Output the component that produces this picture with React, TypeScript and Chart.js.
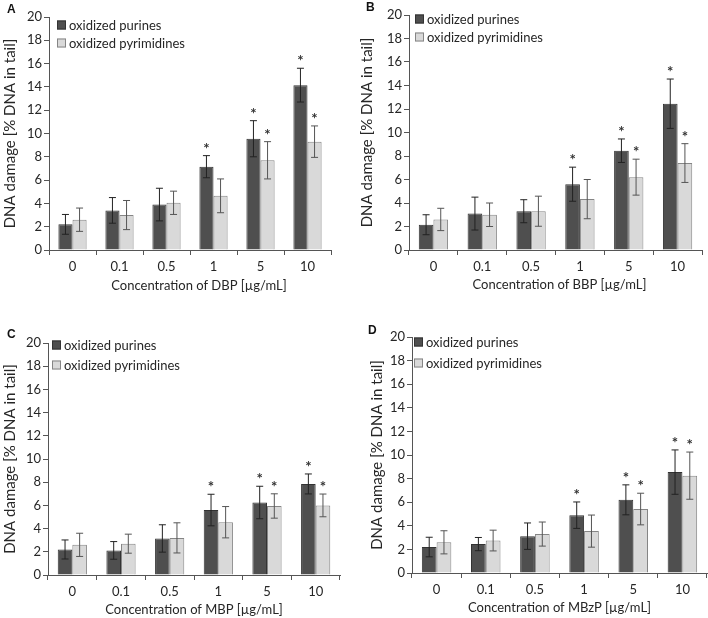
import React, { useEffect, useRef } from "react";
import { Chart, registerables } from "chart.js";

Chart.register(...registerables);

const categories = ["0", "0.1", "0.5", "1", "5", "10"];
const seriesNames = ["oxidized purines", "oxidized pyrimidines"];
const yTicks = [0, 2, 4, 6, 8, 10, 12, 14, 16, 18, 20];

// Panel A (DBP)
const dbpPurines = [2.2, 3.4, 3.9, 7.15, 9.55, 14.15];
const dbpPurinesErr = [0.85, 1.1, 1.4, 0.95, 1.55, 1.45];
const dbpPyrimidines = [2.6, 3.0, 4.05, 4.65, 7.7, 9.3];
const dbpPyrimidinesErr = [1.0, 1.25, 1.0, 1.45, 1.6, 1.35];
const dbpStars = [[false, false, false, true, true, true], [false, false, false, false, true, true]];

// Panel B (BBP)
const bbpPurines = [2.15, 3.1, 3.3, 5.6, 8.45, 12.45];
const bbpPurinesErr = [0.85, 1.4, 0.98, 1.45, 1.0, 2.1];
const bbpPyrimidines = [2.6, 3.0, 3.3, 4.33, 6.2, 7.4];
const bbpPyrimidinesErr = [0.95, 1.0, 1.28, 1.67, 1.53, 1.65];
const bbpStars = [[false, false, false, true, true, true], [false, false, false, false, true, true]];

// Panel C (MBP)
const mbpPurines = [2.2, 2.12, 3.15, 5.6, 6.25, 7.85];
const mbpPurinesErr = [0.82, 0.76, 1.18, 1.36, 1.4, 0.86];
const mbpPyrimidines = [2.6, 2.7, 3.2, 4.55, 5.95, 6.0];
const mbpPyrimidinesErr = [1.0, 0.82, 1.3, 1.35, 1.05, 0.98];
const mbpStars = [[false, false, false, true, true, true], [false, false, false, false, true, true]];

// Panel D (MBzP)
const mbzpPurines = [2.2, 2.45, 3.12, 4.9, 6.2, 8.55];
const mbzpPurinesErr = [0.83, 0.56, 1.12, 1.12, 1.27, 1.88];
const mbzpPyrimidines = [2.6, 2.75, 3.3, 3.55, 5.42, 8.25];
const mbzpPyrimidinesErr = [0.98, 0.88, 1.02, 1.36, 1.34, 2.0];
const mbzpStars = [[false, false, false, true, true, true], [false, false, false, false, true, true]];

const FONT = "Lato, 'Open Sans', sans-serif";
const DARK = "#4f4f4f";
const DARK_BORDER = "#333333";
const LIGHT = "#d9d9d9";
const LIGHT_BORDER = "#858585";
const AXIS = "#555555";
const TEXT = "#262626";

type Panel = {
  letter: string;
  xTitle: string;
  left: number;
  top: number;
  width: number;
  height: number;
  yAxisWidth: number;
  xAxisHeight: number;
  padTop: number;
  padRight: number;
  yTitlePad: number;
  xTitleDx: number;
  xTitleDy: number;
  legendDx: number;
  legendDy: number;
  legendGap: number;
  letterX: number;
  letterY: number;
  values: number[][];
  errs: number[][];
  stars: boolean[][];
};

const panels: Panel[] = [
  {
    letter: "A", xTitle: "Concentration of DBP [µg/mL]",
    left: 0, top: 0, width: 354, height: 300,
    yAxisWidth: 49, xAxisHeight: 50, padTop: 17, padRight: 23,
    yTitlePad: 2.5, xTitleDx: 9, xTitleDy: 36, legendDx: 8, legendDy: 8, legendGap: 18,
    letterX: 7, letterY: 2,
    values: [dbpPurines, dbpPyrimidines], errs: [dbpPurinesErr, dbpPyrimidinesErr], stars: dbpStars,
  },
  {
    letter: "B", xTitle: "Concentration of BBP [µg/mL]",
    left: 354, top: 0, width: 354, height: 300,
    yAxisWidth: 55, xAxisHeight: 50, padTop: 15, padRight: 6,
    yTitlePad: 5.5, xTitleDx: 4, xTitleDy: 35, legendDx: 6, legendDy: 4, legendGap: 18,
    letterX: 366, letterY: 0,
    values: [bbpPurines, bbpPyrimidines], errs: [bbpPurinesErr, bbpPyrimidinesErr], stars: bbpStars,
  },
  {
    letter: "C", xTitle: "Concentration of MBP [µg/mL]",
    left: 0, top: 300, width: 354, height: 318,
    yAxisWidth: 48, xAxisHeight: 43, padTop: 43, padRight: 14,
    yTitlePad: 2.5, xTitleDx: 0, xTitleDy: 35, legendDx: 4, legendDy: 2, legendGap: 20,
    letterX: 7, letterY: 327,
    values: [mbpPurines, mbpPyrimidines], errs: [mbpPurinesErr, mbpPyrimidinesErr], stars: mbpStars,
  },
  {
    letter: "D", xTitle: "Concentration of MBzP [µg/mL]",
    left: 354, top: 300, width: 354, height: 318,
    yAxisWidth: 58, xAxisHeight: 45, padTop: 37, padRight: 1,
    yTitlePad: 15.5, xTitleDx: 0, xTitleDy: 35, legendDx: 2, legendDy: 5, legendGap: 21,
    letterX: 368, letterY: 323,
    values: [mbzpPurines, mbzpPyrimidines], errs: [mbzpPurinesErr, mbzpPyrimidinesErr], stars: mbzpStars,
  },
];

function makeOverlay(p: Panel) {
  return {
    id: "overlay" + p.letter,
    afterDatasetsDraw(chart: any) {
      const ctx = chart.ctx;
      const yScale = chart.scales.y;
      ctx.save();
      for (let d = 0; d < 2; d++) {
        const meta = chart.getDatasetMeta(d);
        meta.data.forEach((bar: any, i: number) => {
          const v = p.values[d][i];
          const e = p.errs[d][i];
          const x = bar.x;
          const yt = yScale.getPixelForValue(v + e);
          const yb = yScale.getPixelForValue(v - e);
          ctx.strokeStyle = d === 0 ? "#222222" : "#555555";
          ctx.lineWidth = 1;
          ctx.beginPath();
          ctx.moveTo(x, yt);
          ctx.lineTo(x, yb);
          ctx.moveTo(x - 3.5, yt);
          ctx.lineTo(x + 3.5, yt);
          ctx.moveTo(x - 3.5, yb);
          ctx.lineTo(x + 3.5, yb);
          ctx.stroke();
          if (p.stars[d][i]) {
            ctx.fillStyle = "#333333";
            ctx.font = `bold 15px ${FONT}`;
            ctx.textAlign = "center";
            ctx.textBaseline = "alphabetic";
            ctx.fillText("*", x, yt - 2);
          }
        });
      }
      const area = chart.chartArea;
      // legend inside plot area
      const lx = area.left + p.legendDx;
      const fills = [DARK, LIGHT];
      const borders = [DARK_BORDER, LIGHT_BORDER];
      for (let k = 0; k < 2; k++) {
        const cy = area.top + p.legendDy + k * p.legendGap;
        ctx.fillStyle = fills[k];
        ctx.fillRect(lx, cy - 4.5, 9, 9);
        ctx.strokeStyle = borders[k];
        ctx.lineWidth = 1;
        ctx.strokeRect(lx + 0.5, cy - 4.5 + 0.5, 8, 8);
        ctx.fillStyle = TEXT;
        ctx.font = `13px ${FONT}`;
        ctx.textAlign = "left";
        ctx.textBaseline = "middle";
        ctx.fillText(seriesNames[k], lx + 12, cy + 0.5);
      }
      // x-axis title
      ctx.fillStyle = TEXT;
      ctx.font = `13px ${FONT}`;
      ctx.textAlign = "center";
      ctx.textBaseline = "middle";
      ctx.fillText(p.xTitle, (area.left + area.right) / 2 + p.xTitleDx, area.bottom + p.xTitleDy);
      ctx.restore();
    },
  };
}

function PanelChart({ p }: { p: Panel }) {
  const ref = useRef<HTMLCanvasElement>(null);
  useEffect(() => {
    if (!ref.current) return;
    const chart = new Chart(ref.current, {
      type: "bar",
      data: {
        labels: categories,
        datasets: [
          {
            label: seriesNames[0],
            data: p.values[0],
            backgroundColor: DARK,
            borderColor: DARK_BORDER,
            borderWidth: 1,
            categoryPercentage: 0.6,
            barPercentage: 1.0,
          },
          {
            label: seriesNames[1],
            data: p.values[1],
            backgroundColor: LIGHT,
            borderColor: LIGHT_BORDER,
            borderWidth: 1,
            categoryPercentage: 0.6,
            barPercentage: 1.0,
          },
        ],
      },
      options: {
        animation: false,
        responsive: false,
        devicePixelRatio: 1,
        layout: { padding: { top: p.padTop, right: p.padRight, left: 0, bottom: 0 } },
        plugins: {
          legend: { display: false },
          tooltip: { enabled: false },
        },
        scales: {
          x: {
            grid: {
              display: true,
              drawOnChartArea: false,
              drawTicks: true,
              tickLength: 5,
              color: AXIS,
              offset: true,
            },
            border: { display: true, color: AXIS, width: 1 },
            ticks: {
              color: TEXT,
              font: { family: FONT, size: 13 },
              padding: 4,
              maxRotation: 0,
            },
            afterFit: (s: any) => {
              s.height = p.xAxisHeight;
            },
          },
          y: {
            min: 0,
            max: 20,
            afterBuildTicks: (s: any) => {
              s.ticks = yTicks.map((v) => ({ value: v }));
            },
            grid: {
              display: true,
              drawOnChartArea: false,
              drawTicks: true,
              tickLength: 5,
              color: AXIS,
            },
            border: { display: true, color: AXIS, width: 1 },
            ticks: {
              color: TEXT,
              font: { family: FONT, size: 13 },
              padding: 2,
            },
            title: {
              display: true,
              text: "DNA damage [% DNA in tail]",
              color: TEXT,
              font: { family: FONT, size: 15, lineHeight: 1 },
              padding: { top: p.yTitlePad, bottom: 0 },
            },
            afterFit: (s: any) => {
              s.width = p.yAxisWidth;
            },
          },
        },
      },
      plugins: [makeOverlay(p)],
    });
    return () => chart.destroy();
  }, [p]);
  return (
    <div
      style={{
        position: "absolute",
        left: p.left,
        top: p.top,
        width: p.width,
        height: p.height,
      }}
    >
      <canvas ref={ref} width={p.width} height={p.height} style={{ width: p.width, height: p.height }} />
    </div>
  );
}

export default function App() {
  return (
    <div
      style={{
        position: "absolute",
        left: 0,
        top: 0,
        width: 708,
        height: 618,
        background: "#ffffff",
        overflow: "hidden",
      }}
    >
      {panels.map((p) => (
        <PanelChart key={p.letter} p={p} />
      ))}
      {panels.map((p) => (
        <div
          key={"l" + p.letter}
          style={{
            position: "absolute",
            left: p.letterX,
            top: p.letterY,
            fontFamily: "'Liberation Sans', Arial, sans-serif",
            fontWeight: "bold",
            fontSize: 12,
            color: "#111111",
          }}
        >
          {p.letter}
        </div>
      ))}
    </div>
  );
}
